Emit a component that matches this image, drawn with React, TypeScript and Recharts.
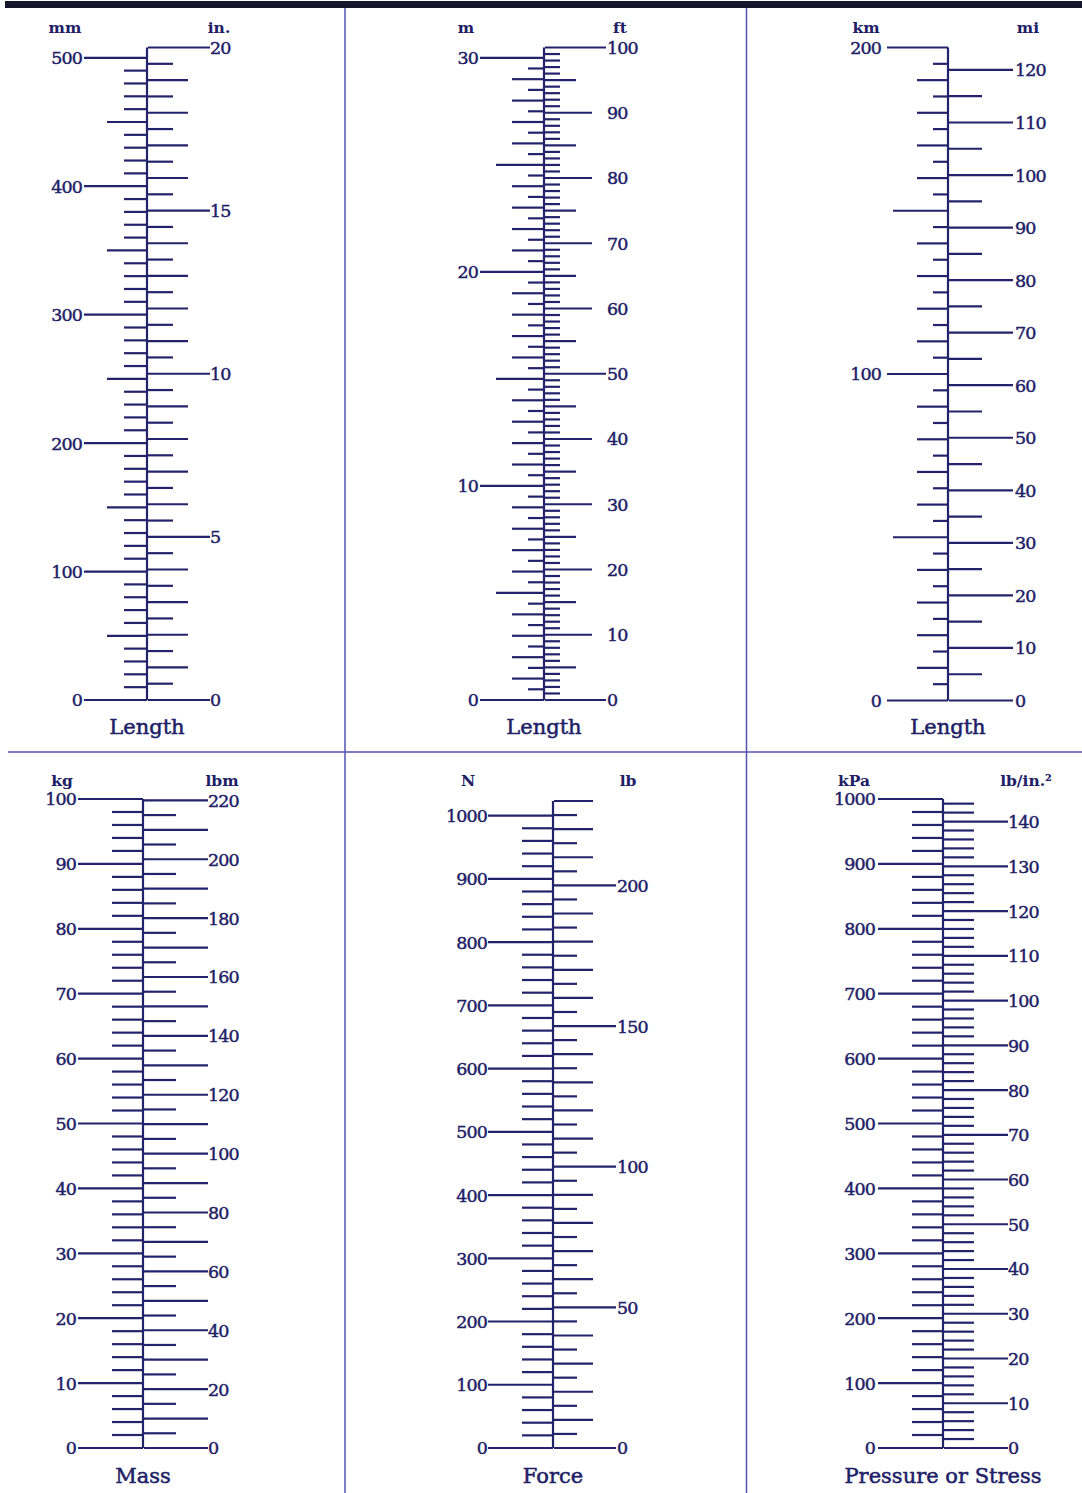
import React from 'react';
import { ComposedChart, Line, XAxis, YAxis } from 'recharts';

const INK = '#23236c';
const TEXT = '#202066';
const RULE = '#5252b0';
const SERIF = '"DejaVu Serif", "Liberation Serif", serif';

// graduation marks from 0 to end in fixed steps
const marks = (end: number, step: number) => {
  const out: number[] = [];
  for (let i = 0; i * step <= end + 1e-9; i++) out.push(+(i * step).toFixed(3));
  return out;
};

// Length: mm / in.
const MM_TOP = 508; // = 20 in.
const MM_TICKS = marks(500, 10);
const MM_LABELS = [0, 100, 200, 300, 400, 500];
const IN_TOP = 20;
const IN_TICKS = marks(20, 0.5);
const IN_LABELS = [0, 5, 10, 15, 20];

// Length: m / ft
const M_TOP = 30.48; // = 100 ft
const M_TICKS = marks(30, 0.5);
const M_LABELS = [0, 10, 20, 30];
const FT_TOP = 100;
const FT_TICKS = marks(100, 1);
const FT_LABELS = [0, 10, 20, 30, 40, 50, 60, 70, 80, 90, 100];

// Length: km / mi
const KM_TOP = 200;
const KM_TICKS = marks(200, 5);
const KM_LABELS = [0, 100, 200];
const MI_TOP = 124.27; // = 200 km
const MI_TICKS = marks(120, 5);
const MI_LABELS = [0, 10, 20, 30, 40, 50, 60, 70, 80, 90, 100, 110, 120];

// Mass: kg / lbm
const KG_TOP = 100;
const KG_TICKS = marks(100, 2);
const KG_LABELS = [0, 10, 20, 30, 40, 50, 60, 70, 80, 90, 100];
const LBM_TOP = 220.46; // = 100 kg
const LBM_TICKS = marks(220, 5);
const LBM_LABELS = [0, 20, 40, 60, 80, 100, 120, 140, 160, 180, 200, 220];

// Force: N / lb
const N_TOP = 1023.1; // = 230 lb
const N_TICKS = marks(1000, 20);
const N_LABELS = [0, 100, 200, 300, 400, 500, 600, 700, 800, 900, 1000];
const LB_TOP = 230;
const LB_TICKS = marks(230, 5);
const LB_LABELS = [0, 50, 100, 150, 200];

// Pressure or stress: kPa / lb/in.2
const KPA_TOP = 1000;
const KPA_TICKS = marks(1000, 20);
const KPA_LABELS = [0, 100, 200, 300, 400, 500, 600, 700, 800, 900, 1000];
const PSI_TOP = 145.04; // = 1000 kPa
const PSI_TICKS = marks(144, 2);
const PSI_LABELS = [0, 10, 20, 30, 40, 50, 60, 70, 80, 90, 100, 110, 120, 130, 140];

type Rule = [number, number]; // divisor, tick length (px)

interface Scale {
  top: number;
  ticks: number[];
  labels: number[];
  rules: Rule[];
  gap: number;
  unit: string;
  unitX: number;
}

interface Panel {
  x: number;
  y: number;
  w: number;
  h: number;
  axis: number;
  spineTop: number;
  zero: number;
  unitY: number;
  titleY: number;
  title: string;
  left: Scale;
  right: Scale;
}

const PANELS: Panel[] = [
  {
    x: 0, y: 8, w: 345, h: 744, axis: 147, spineTop: 47.5, zero: 700, unitY: 33, titleY: 734, title: 'Length',
    left: { top: MM_TOP, ticks: MM_TICKS, labels: MM_LABELS, rules: [[100, 63], [50, 40], [10, 23]], gap: 65, unit: 'mm', unitX: 65 },
    right: { top: IN_TOP, ticks: IN_TICKS, labels: IN_LABELS, rules: [[5, 62], [1, 40], [0.5, 25]], gap: 62, unit: 'in.', unitX: 219 },
  },
  {
    x: 345, y: 8, w: 401, h: 744, axis: 544, spineTop: 47.5, zero: 700, unitY: 33, titleY: 734, title: 'Length',
    left: { top: M_TOP, ticks: M_TICKS, labels: M_LABELS, rules: [[10, 64], [5, 48], [1, 32], [0.5, 16]], gap: 66, unit: 'm', unitX: 466 },
    right: { top: FT_TOP, ticks: FT_TICKS, labels: FT_LABELS, rules: [[50, 61], [10, 47], [5, 31], [1, 15]], gap: 62, unit: 'ft', unitX: 620 },
  },
  {
    x: 746, y: 8, w: 336, h: 744, axis: 948, spineTop: 47.5, zero: 700.5, unitY: 33, titleY: 734, title: 'Length',
    left: { top: KM_TOP, ticks: KM_TICKS, labels: KM_LABELS, rules: [[100, 61], [50, 55], [10, 31], [5, 15]], gap: 67, unit: 'km', unitX: 866 },
    right: { top: MI_TOP, ticks: MI_TICKS, labels: MI_LABELS, rules: [[10, 64], [5, 33]], gap: 66, unit: 'mi', unitX: 1028 },
  },
  {
    x: 0, y: 752, w: 345, h: 741, axis: 143, spineTop: 799, zero: 1448, unitY: 786, titleY: 1483, title: 'Mass',
    left: { top: KG_TOP, ticks: KG_TICKS, labels: KG_LABELS, rules: [[10, 65], [2, 31]], gap: 67, unit: 'kg', unitX: 62 },
    right: { top: LBM_TOP, ticks: LBM_TICKS, labels: LBM_LABELS, rules: [[10, 64], [5, 32]], gap: 64, unit: 'lbm', unitX: 222 },
  },
  {
    x: 345, y: 752, w: 401, h: 741, axis: 553, spineTop: 801, zero: 1448, unitY: 786, titleY: 1483, title: 'Force',
    left: { top: N_TOP, ticks: N_TICKS, labels: N_LABELS, rules: [[100, 65], [20, 31]], gap: 66, unit: 'N', unitX: 468 },
    right: { top: LB_TOP, ticks: LB_TICKS, labels: LB_LABELS, rules: [[50, 62], [10, 39], [5, 23]], gap: 63, unit: 'lb', unitX: 628 },
  },
  {
    x: 746, y: 752, w: 336, h: 741, axis: 943, spineTop: 799, zero: 1448, unitY: 786, titleY: 1483, title: 'Pressure or Stress',
    left: { top: KPA_TOP, ticks: KPA_TICKS, labels: KPA_LABELS, rules: [[100, 65], [20, 31]], gap: 68, unit: 'kPa', unitX: 854 },
    right: { top: PSI_TOP, ticks: PSI_TICKS, labels: PSI_LABELS, rules: [[10, 64], [2, 30]], gap: 64, unit: 'lb/in.²', unitX: 1026 },
  },
];

const tickLength = (v: number, rules: Rule[]) => {
  for (const [d, len] of rules) {
    const q = v / d;
    if (Math.abs(q - Math.round(q)) < 1e-6) return len;
  }
  return rules[rules.length - 1][1];
};

const renderTick = (side: 'L' | 'R', s: Scale) => (props: any) => {
  const { x, y, payload } = props;
  const v = payload.value as number;
  const dir = side === 'L' ? -1 : 1;
  const len = tickLength(v, s.rules);
  return (
    <g>
      <line x1={x} y1={y} x2={x + dir * len} y2={y} stroke={INK} strokeWidth={2.2} />
      {s.labels.includes(v) && (
        <text
          x={x + dir * s.gap}
          y={y}
          dy="0.37em"
          textAnchor={side === 'L' ? 'end' : 'start'}
          fontFamily={SERIF}
          fontSize={17.5}
          letterSpacing={-0.9}
          fill={TEXT}
          stroke={TEXT}
          strokeWidth={0.45}
        >
          {v}
        </text>
      )}
    </g>
  );
};

function ScaleChart({ p }: { p: Panel }) {
  const rows = p.left.labels.map((v, i) => ({ k: i, v }));
  const lw = p.axis - p.x;
  const rw = p.w - lw - 1;
  return (
    <div style={{ position: 'absolute', left: p.x, top: p.y }}>
      <ComposedChart
        width={p.w}
        height={p.h}
        data={rows}
        margin={{ top: p.spineTop - p.y, bottom: p.y + p.h - p.zero, left: 0, right: 0 }}
      >
        <XAxis dataKey="k" hide />
        <YAxis
          yAxisId="L"
          orientation="left"
          type="number"
          width={lw}
          domain={[0, p.left.top]}
          ticks={p.left.ticks}
          interval={0}
          tickSize={0}
          tickMargin={0}
          tickLine={false}
          axisLine={{ stroke: INK, strokeWidth: 2.2 }}
          tick={renderTick('L', p.left)}
          allowDataOverflow
        />
        <YAxis
          yAxisId="R"
          orientation="right"
          type="number"
          width={rw}
          domain={[0, p.right.top]}
          ticks={p.right.ticks}
          interval={0}
          tickSize={0}
          tickMargin={0}
          tickLine={false}
          axisLine={false}
          tick={renderTick('R', p.right)}
          allowDataOverflow
        />
        <Line yAxisId="L" dataKey="v" stroke="none" dot={false} activeDot={false} isAnimationActive={false} />
      </ComposedChart>
    </div>
  );
}

export default function App() {
  return (
    <div style={{ position: 'absolute', left: 0, top: 0, width: 1082, height: 1493, background: '#ffffff', overflow: 'hidden' }}>
      <svg width={1082} height={1493} style={{ position: 'absolute', left: 0, top: 0 }}>
        <rect x={5} y={1} width={1077} height={7} fill="#15152c" />
        <line x1={345} y1={8} x2={345} y2={1493} stroke={RULE} strokeWidth={1.5} />
        <line x1={746.5} y1={8} x2={746.5} y2={1493} stroke={RULE} strokeWidth={1.5} />
        <line x1={8} y1={752} x2={1082} y2={752} stroke={RULE} strokeWidth={1.5} />
        {PANELS.map((p, i) => (
          <g key={i} fill={TEXT} fontFamily={SERIF}>
            <text x={p.left.unitX} y={p.unitY} textAnchor="middle" fontSize={15.5} fontWeight="bold">{p.left.unit}</text>
            <text x={p.right.unitX} y={p.unitY} textAnchor="middle" fontSize={15.5} fontWeight="bold">{p.right.unit}</text>
            <text x={p.axis} y={p.titleY} textAnchor="middle" fontSize={21} stroke={TEXT} strokeWidth={0.5}>{p.title}</text>
          </g>
        ))}
      </svg>
      {PANELS.map((p, i) => (
        <ScaleChart key={i} p={p} />
      ))}
    </div>
  );
}
